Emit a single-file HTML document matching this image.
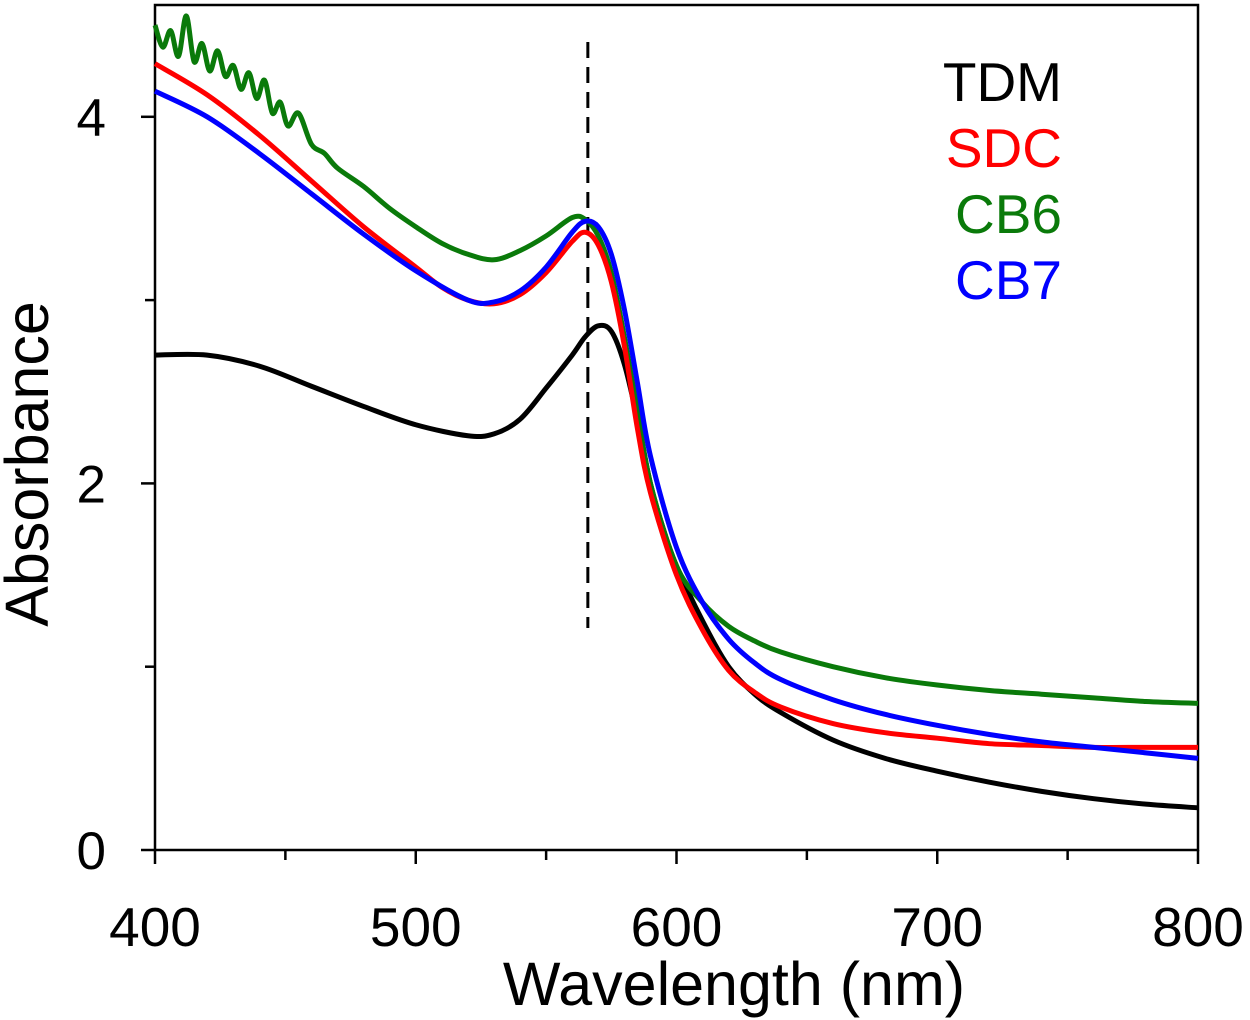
<!DOCTYPE html>
<html><head><meta charset="utf-8"><style>
body{margin:0;background:#fff;}
svg{display:block;font-family:"Liberation Sans",Arial,sans-serif;}
</style></head><body>
<svg id="chart" width="1250" height="1020"></svg>
<script>
const wlTDM=[400,420,440,460,480,500,520,530,540,550,560,565,570,575,580,585,590,595,600,610,620,630,640,660,680,700,720,740,760,780,800];
const absTDM=[2.70,2.70,2.64,2.53,2.42,2.32,2.26,2.27,2.35,2.52,2.70,2.80,2.86,2.83,2.65,2.35,2.0,1.75,1.55,1.25,1.0,0.85,0.75,0.60,0.50,0.43,0.37,0.32,0.28,0.25,0.23];
const wlSDC=[400,420,440,460,480,500,510,520,530,540,550,560,565,570,575,580,585,590,600,610,620,630,640,660,680,700,720,740,760,780,800];
const absSDC=[4.29,4.12,3.90,3.65,3.40,3.18,3.07,3.00,2.98,3.03,3.15,3.32,3.37,3.30,3.10,2.75,2.30,1.95,1.50,1.20,0.98,0.86,0.78,0.69,0.64,0.61,0.58,0.57,0.56,0.56,0.56];
const wlCB7=[400,420,440,460,480,500,520,530,540,550,560,565,570,575,580,585,590,600,610,620,630,640,660,680,700,720,740,760,780,800];
const absCB7=[4.14,4.00,3.80,3.58,3.36,3.16,3.00,2.99,3.05,3.18,3.37,3.43,3.40,3.25,2.95,2.55,2.15,1.65,1.35,1.15,1.02,0.93,0.82,0.74,0.68,0.63,0.59,0.56,0.53,0.50];
const wlCB6=[400,403,406,409,412,415,418,421,424,427,430,433,436,439,442,445,448,451,455,460,465,470,480,490,500,510,520,530,540,550,560,565,570,575,580,585,590,600,610,620,630,640,660,680,700,720,740,760,780,800];
const absCB6=[4.50,4.38,4.47,4.33,4.55,4.30,4.40,4.25,4.36,4.22,4.28,4.15,4.24,4.10,4.20,4.02,4.08,3.95,4.02,3.85,3.80,3.72,3.62,3.50,3.40,3.31,3.25,3.22,3.27,3.35,3.45,3.44,3.35,3.15,2.80,2.40,2.0,1.55,1.35,1.22,1.14,1.08,1.00,0.94,0.90,0.87,0.85,0.83,0.81,0.80];
const xTicks=[400,500,600,700,800];
const yTicks=[0,2,4];
const x0=155,x1=1198,yz=850,ppu=183.3;
const X=w=>x0+(w-400)/400*(x1-x0);
const Y=a=>yz-a*ppu;
const svg=document.getElementById('chart');
const NS='http://www.w3.org/2000/svg';
function el(t,a,p){const e=document.createElementNS(NS,t);for(const k in a)e.setAttribute(k,a[k]);(p||svg).appendChild(e);return e;}
let e=el('rect',{x:x0,y:5,width:x1-x0,height:yz-5,fill:'none',stroke:'#000','stroke-width':2.5});

for(let w=400;w<=800;w+=50){e=el('line',{x1:X(w),x2:X(w),y1:yz,y2:yz+(w%100?10:14),stroke:'#000','stroke-width':2.5});
}
for(let a=0;a<=4;a++){e=el('line',{x1:x0,x2:x0-(a%2?10:14),y1:Y(a),y2:Y(a),stroke:'#000','stroke-width':2.5});
}
xTicks.forEach(w=>{const t=el('text',{x:X(w),y:946,'font-size':55,'text-anchor':'middle'});t.textContent=w;
});
yTicks.forEach(a=>{const t=el('text',{x:106,y:Y(a)+19,'font-size':53,'text-anchor':'end'});t.textContent=a;
});
e=el('text',{x:734,y:1005,'font-size':61,'text-anchor':'middle'});e.textContent='Wavelength (nm)';

e=el('text',{x:0,y:0,'font-size':61,'text-anchor':'middle',transform:'translate(48,464) rotate(-90)'});e.textContent='Absorbance';

e=el('line',{x1:X(566),x2:X(566),y1:42,y2:628,stroke:'#000','stroke-width':3,'stroke-dasharray':'16,9'});

function path(ws,as){const p=ws.map((w,i)=>[X(w),Y(as[i])]);let d='M'+p[0][0]+','+p[0][1];
for(let i=0;i<p.length-1;i++){const a=p[Math.max(0,i-1)],b=p[i],c=p[i+1],n=p[Math.min(p.length-1,i+2)];
d+=' C'+(b[0]+(c[0]-a[0])/6)+','+(b[1]+(c[1]-a[1])/6)+' '+(c[0]-(n[0]-b[0])/6)+','+(c[1]-(n[1]-b[1])/6)+' '+c[0]+','+c[1];}return d;}
[['tdm',wlTDM,absTDM,'#000'],['cb6',wlCB6,absCB6,'#0a7a0a'],['sdc',wlSDC,absSDC,'#f00'],['cb7',wlCB7,absCB7,'#00f']].forEach(s=>{
const l=el('path',{d:path(s[1],s[2]),fill:'none',stroke:s[3],'stroke-width':5});
});
[['TDM','#000',101],['SDC','#f00',167],['CB6','#0a7a0a',233],['CB7','#00f',299]].forEach(s=>{
const t=el('text',{x:1062,y:s[2],'font-size':55,'text-anchor':'end',fill:s[1]});t.textContent=s[0];
});
</script>
</body></html>
